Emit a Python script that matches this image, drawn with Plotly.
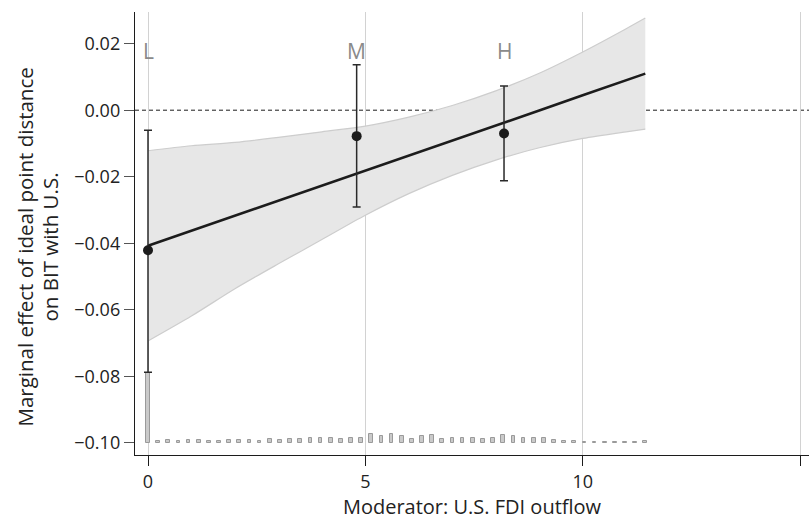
import numpy as np
import plotly.graph_objects as go

# ---- data ----
band_x = [0, 1, 2, 3, 4, 5, 6, 7, 8, 9, 10, 11, 11.44]
line_y = [-0.0408, -0.0363, -0.0317, -0.0272, -0.0227, -0.0182, -0.0136,
          -0.0091, -0.0046, -0.0001, 0.0045, 0.0090, 0.0110]
upper_y = [-0.0122, -0.0107, -0.0097, -0.0082, -0.0065, -0.0048, -0.0021,
           0.0014, 0.0058, 0.0111, 0.0175, 0.0245, 0.0277]
lower_y = [-0.0694, -0.0619, -0.0537, -0.0462, -0.0389, -0.0316, -0.0251,
           -0.0196, -0.0150, -0.0113, -0.0085, -0.0065, -0.0057]

bin_labels = ["L", "M", "H"]
bin_x = [0.0, 4.8, 8.19]
bin_est = [-0.0421, -0.0078, -0.0070]
bin_hi = [-0.0060, 0.0137, 0.0073]
bin_lo = [-0.0788, -0.0291, -0.0212]

hist_min, hist_max = 0.0, 11.44
hist_counts = [210, 4, 7, 4, 9, 7, 6, 5, 7, 8, 8, 5, 10, 7, 10, 10, 14, 13, 13, 10,
               15, 15, 27, 20, 25, 19, 12, 19, 22, 10, 14, 14, 15, 11, 13, 24, 20, 14,
               13, 14, 9, 4, 4, 3, 3, 3, 3, 3, 3, 4]
hist_base = -0.10
hist_scale = 0.0001

x_ticks = [0, 5, 10, 15]
y_ticks = [-0.10, -0.08, -0.06, -0.04, -0.02, 0.00, 0.02]

y_title_lines = ["Marginal effect of ideal point distance", "on BIT with U.S."]
x_title = "Moderator: U.S. FDI outflow"

FONT = "Open Sans"

hist_x = np.linspace(hist_min, hist_max, len(hist_counts))
hist_h = np.array(hist_counts) * hist_scale

fig = go.Figure()

# histogram of moderator
fig.add_trace(go.Bar(
    x=hist_x, y=hist_h, base=hist_base, width=0.085,
    marker=dict(color="#cacaca", line=dict(color="#9a9a9a", width=1)),
    showlegend=False, hoverinfo="skip"))

# confidence band
fig.add_trace(go.Scatter(
    x=band_x, y=lower_y, mode="lines",
    line=dict(color="#cdcdcd", width=1.2, shape="spline", smoothing=0.8),
    showlegend=False, hoverinfo="skip"))
fig.add_trace(go.Scatter(
    x=band_x, y=upper_y, mode="lines", fill="tonexty", fillcolor="#e7e7e7",
    line=dict(color="#cdcdcd", width=1.2, shape="spline", smoothing=0.8),
    showlegend=False, hoverinfo="skip"))

# marginal effect line
fig.add_trace(go.Scatter(
    x=band_x, y=line_y, mode="lines",
    line=dict(color="#1c1c1c", width=2.6), showlegend=False))

# binned estimates
err_plus = [h - e for h, e in zip(bin_hi, bin_est)]
err_minus = [e - l for e, l in zip(bin_est, bin_lo)]
fig.add_trace(go.Scatter(
    x=bin_x, y=bin_est, mode="markers",
    marker=dict(color="#1c1c1c", size=10),
    error_y=dict(type="data", array=err_plus, arrayminus=err_minus,
                 color="#2a2a2a", thickness=1.5, width=4),
    showlegend=False))

# L / M / H labels
for lab, bx in zip(bin_labels, bin_x):
    fig.add_annotation(x=bx, y=0.0178, text=lab, showarrow=False,
                       font=dict(family=FONT, size=21, color="#8a8a8a"),
                       xanchor="center", yanchor="middle")

# zero reference line
fig.add_shape(type="line", xref="paper", x0=0, x1=1, yref="y", y0=0, y1=0,
              line=dict(color="#1c1c1c", width=1, dash="4px,3px"), layer="below")

# y title (two rotated lines)
for txt, px in zip(y_title_lines, [24.5, 49.5]):
    fig.add_annotation(xref="paper", yref="paper",
                       x=(px - 135) / 674, y=(455 - 247) / 443,
                       text=txt, textangle=-90, showarrow=False,
                       xanchor="center", yanchor="middle",
                       font=dict(family=FONT, size=20.5, color="#222222"))

fig.update_layout(
    width=809, height=520,
    margin=dict(l=135, r=0, t=12, b=65),
    paper_bgcolor="white", plot_bgcolor="white",
    font=dict(family=FONT, size=18, color="#222222"),
    bargap=0,
    xaxis=dict(range=[-0.299, 15.206], tickvals=x_ticks, showgrid=True,
               gridcolor="#d2d2d2", gridwidth=1, zeroline=False,
               showline=True, linecolor="#1c1c1c", linewidth=1.4,
               ticks="outside", ticklen=10, tickcolor="#1c1c1c", tickwidth=1.4,
               title=dict(text=x_title, standoff=1,
                          font=dict(family=FONT, size=20))),
    yaxis=dict(range=[-0.1037, 0.02953], tickvals=y_ticks, tickformat=".2f",
               showgrid=False, zeroline=False,
               showline=True, linecolor="#1c1c1c", linewidth=1.4,
               ticks="outside", ticklen=10, tickcolor="#555555", tickwidth=1.2),
)

fig.write_html("out.html")
